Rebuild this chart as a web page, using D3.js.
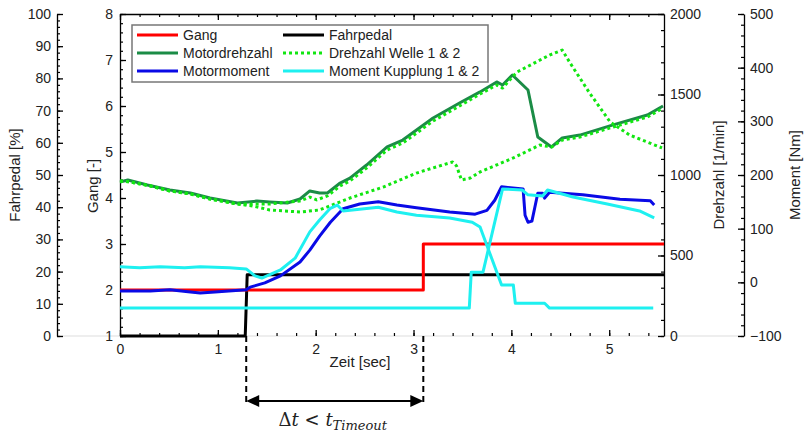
<!DOCTYPE html>
<html>
<head>
<meta charset="utf-8">
<script src="https://cdn.jsdelivr.net/npm/d3@7"></script>
<style>
  body { margin: 0; background: #fff; }
  svg text { font-family: Arial, "Liberation Sans", sans-serif; fill: #222; }
</style>
</head>
<body>
<div id="chart-area"></div>
<script>
// ---------- data (time [s], value) ----------
const gang = [[0, 2], [3.1, 2], [3.1, 3], [5.56, 3]];
const fahrpedal = [[0, 0], [1.28, 0], [1.30, 19], [5.56, 19]];

const motordrehzahl = [[0, 957], [0.08, 969], [0.28, 938], [0.51, 907], [0.72, 888], [0.92, 857],
  [1.2, 826], [1.4, 838], [1.53, 832], [1.71, 826], [1.84, 851], [1.94, 901], [2.04, 888], [2.12, 888],
  [2.25, 950], [2.35, 981], [2.52, 1062], [2.73, 1174], [2.89, 1217], [3.2, 1354], [3.47, 1447],
  [3.68, 1516], [3.85, 1578], [3.91, 1559], [4.01, 1621], [4.17, 1528], [4.27, 1236], [4.41, 1174],
  [4.52, 1230], [4.7, 1248], [5.04, 1311], [5.39, 1373], [5.55, 1429]];

const drehzahlWelle1 = [[0, 963], [0.1, 957], [0.31, 932], [0.51, 901], [0.72, 882], [0.92, 851],
  [1.2, 820], [1.53, 820], [1.84, 839], [1.94, 863], [2.01, 845], [2.12, 870], [2.25, 932], [2.35, 963],
  [2.52, 1043], [2.73, 1155], [2.89, 1199], [3.2, 1335], [3.47, 1429], [3.68, 1503], [3.85, 1559],
  [3.91, 1540], [4.01, 1609], [4.06, 1640], [4.39, 1745], [4.52, 1776], [4.6, 1696], [4.8, 1509],
  [5.01, 1329], [5.21, 1248], [5.54, 1168]];

const drehzahlWelle2 = [[0, 963], [0.1, 957], [0.31, 932], [0.51, 901], [0.72, 882], [0.92, 851],
  [1.2, 820], [1.36, 807], [1.53, 783], [1.84, 770], [2.04, 783], [2.35, 857], [2.69, 925], [3.03, 1012],
  [3.4, 1081], [3.44, 1056], [3.49, 969], [3.58, 981], [3.68, 1019], [4.02, 1106], [4.29, 1186],
  [4.41, 1174], [4.52, 1217], [4.7, 1236], [5.04, 1298], [5.39, 1360], [5.55, 1416]];

const motormoment = [[0, -16], [0.31, -16], [0.51, -14], [0.72, -18], [0.82, -20], [0.97, -18],
  [1.29, -14], [1.33, -9], [1.48, -1], [1.64, 12], [1.84, 38], [1.94, 60], [2.04, 86], [2.15, 112],
  [2.28, 137], [2.45, 146], [2.64, 150], [2.83, 144], [3.03, 139], [3.37, 131], [3.63, 127], [3.75, 134],
  [3.83, 153], [3.9, 178], [4.12, 174], [4.14, 125], [4.17, 112], [4.21, 114], [4.24, 140], [4.27, 166],
  [4.32, 166], [4.34, 157], [4.39, 168], [4.73, 163], [5.11, 155], [5.42, 152], [5.46, 144]];

const momentKupplung1 = [[0, 29], [0.2, 27], [0.41, 29], [0.66, 27], [0.82, 29], [1.12, 27], [1.29, 25],
  [1.38, 12], [1.45, 8], [1.64, 23], [1.79, 45], [1.94, 94], [2.04, 116], [2.15, 138], [2.22, 144],
  [2.28, 133], [2.64, 140], [2.83, 131], [3.03, 125], [3.37, 120], [3.6, 112], [3.68, 103], [3.9, -5],
  [4.02, -5], [4.04, -39], [4.34, -39], [4.39, -48], [5.45, -48]];

const momentKupplung2 = [[0, -48], [3.57, -48], [3.59, 19], [3.71, 19], [3.91, 174], [4.11, 172],
  [4.17, 163], [4.32, 161], [4.37, 172], [4.63, 159], [4.98, 146], [5.31, 133], [5.46, 120]];

const legendItems = [
  {name: "Gang", color: "#ff0000", dash: null},
  {name: "Fahrpedal", color: "#000000", dash: null},
  {name: "Motordrehzahl", color: "#1b8c46", dash: null},
  {name: "Drehzahl Welle 1 & 2", color: "#11e611", dash: "3,3"},
  {name: "Motormoment", color: "#0a0ae6", dash: null},
  {name: "Moment Kupplung 1 & 2", color: "#1ef0f0", dash: null}
];

// ---------- layout ----------
const width = 805, height = 433;
const plot = {left: 120, right: 664, top: 14, bottom: 336};
const pedalAxisX = 57, momentAxisX = 744;

const svg = d3.select("#chart-area").append("svg")
  .attr("width", width)
  .attr("height", height);

// Scales
const x = d3.scaleLinear().domain([0, 5.56]).range([plot.left, plot.right]);
const yGang = d3.scaleLinear().domain([1, 8]).range([plot.bottom, plot.top]);
const yPedal = d3.scaleLinear().domain([0, 100]).range([plot.bottom, plot.top]);
const yRpm = d3.scaleLinear().domain([0, 2000]).range([plot.bottom, plot.top]);
const yNm = d3.scaleLinear().domain([-100, 500]).range([plot.bottom, plot.top]);

// light grey base line
svg.append("line")
  .attr("x1", pedalAxisX).attr("x2", momentAxisX)
  .attr("y1", plot.bottom).attr("y2", plot.bottom)
  .attr("stroke", "#dddddd").attr("stroke-width", 1);

const range = (a, b, s) => d3.range(a, b + s / 2, s).map(v => +v.toFixed(3));

// helper: major + minor ticks on one axis (separate groups)
function addAxis(axisFn, scale, pos, majors, minors, pad, isX) {
  const tr = isX ? "translate(0," + pos + ")" : "translate(" + pos + ",0)";
  const gMinor = svg.append("g").attr("transform", tr)
    .call(axisFn(scale).tickValues(minors).tickSize(-3).tickSizeOuter(0).tickFormat(""));
  gMinor.select(".domain").remove();
  gMinor.selectAll(".tick line").attr("stroke", "#000").attr("stroke-width", 1.2);

  const g = svg.append("g").attr("transform", tr)
    .call(axisFn(scale).tickValues(majors).tickSize(-6).tickSizeOuter(0)
      .tickPadding(pad).tickFormat(d3.format("d")));
  g.select(".domain").attr("stroke", "#000").attr("stroke-width", 1.3);
  g.selectAll(".tick line").attr("stroke", "#000").attr("stroke-width", 1.3);
  g.selectAll("text").style("font-size", "14px").style("font-family", "Arial, 'Liberation Sans', sans-serif").attr("fill", "#222");
  return g;
}

// Fahrpedal axis
addAxis(d3.axisLeft, yPedal, pedalAxisX, range(0, 100, 10), range(0, 100, 2), 6);
// Gang axis
addAxis(d3.axisLeft, yGang, plot.left, range(1, 8, 1), range(1, 8, 0.2), 7);
// Drehzahl axis
addAxis(d3.axisRight, yRpm, plot.right, range(0, 2000, 500), range(0, 2000, 100), 6);
// Moment axis
addAxis(d3.axisRight, yNm, momentAxisX, range(-100, 500, 100), range(-100, 500, 20), 6);

// x axes (bottom: grey base line instead of domain, top: black)
const xBottom = addAxis(d3.axisBottom, x, plot.bottom, range(0, 5, 1), range(0, 5.4, 0.2), 8, true);
xBottom.select(".domain").remove();
const xTop = addAxis(d3.axisTop, x, plot.top, range(0, 5, 1), range(0, 5.4, 0.2), 8, true);
xTop.selectAll("text").remove();

// Axis titles
const titles = [
  {text: "Fahrpedal [%]", x: 15, y: 175},
  {text: "Gang [-]", x: 93, y: 186},
  {text: "Drehzahl [1/min]", x: 719, y: 175},
  {text: "Moment [Nm]", x: 795, y: 175}
];
svg.selectAll(".axis-title").data(titles).enter().append("text")
  .attr("class", "axis-title")
  .attr("transform", d => "translate(" + d.x + "," + d.y + ") rotate(-90)")
  .attr("text-anchor", "middle")
  .attr("dy", "0.35em")
  .style("font-size", "15px")
  .text(d => d.text);

svg.append("text")
  .attr("x", 360).attr("y", 362)
  .attr("text-anchor", "middle")
  .attr("dy", "0.35em")
  .style("font-size", "15px")
  .text("Zeit [sec]");

// ---------- lines ----------
const lineFor = yScale => d3.line().x(d => x(d[0])).y(d => yScale(d[1]));

const series = [
  {data: fahrpedal, y: yPedal, item: legendItems[1]},
  {data: gang, y: yGang, item: legendItems[0]},
  {data: motordrehzahl, y: yRpm, item: legendItems[2]},
  {data: drehzahlWelle1, y: yRpm, item: legendItems[3]},
  {data: drehzahlWelle2, y: yRpm, item: legendItems[3]},
  {data: motormoment, y: yNm, item: legendItems[4]},
  {data: momentKupplung1, y: yNm, item: legendItems[5]},
  {data: momentKupplung2, y: yNm, item: legendItems[5]}
];

svg.append("g").selectAll("path").data(series).enter().append("path")
  .attr("fill", "none")
  .attr("stroke", d => d.item.color)
  .attr("stroke-width", 3)
  .attr("stroke-linejoin", "round")
  .attr("stroke-dasharray", d => d.item.dash)
  .attr("d", d => lineFor(d.y)(d.data));

// ---------- legend ----------
const legend = svg.append("g");
legend.append("rect")
  .attr("x", 132).attr("y", 25)
  .attr("width", 356).attr("height", 57)
  .attr("fill", "#fff")
  .attr("stroke", "#777").attr("stroke-width", 1.5);

const legendRow = legend.selectAll(".leg").data(legendItems).enter().append("g")
  .attr("class", "leg")
  .attr("transform", (d, i) => "translate(" + (i % 2 === 0 ? 137 : 283) + "," + (35 + Math.floor(i / 2) * 18) + ")");
legendRow.append("line")
  .attr("x1", 0).attr("x2", 41)
  .attr("stroke", d => d.color)
  .attr("stroke-width", 3)
  .attr("stroke-dasharray", d => d.dash);
legendRow.append("text")
  .attr("x", 46).attr("dy", "0.35em")
  .style("font-size", "14px")
  .text(d => d.name);

// ---------- timeout annotation ----------
const tStart = fahrpedal[2][0] - 0.01, tEnd = gang[1][0];
const arrowY = 401;
[tStart, tEnd].forEach(t => {
  svg.append("line")
    .attr("x1", x(t)).attr("x2", x(t))
    .attr("y1", plot.bottom).attr("y2", arrowY + 2)
    .attr("stroke", "#000").attr("stroke-width", 2)
    .attr("stroke-dasharray", "6,4");
});

svg.append("line")
  .attr("x1", x(tStart) + 10).attr("x2", x(tEnd) - 10)
  .attr("y1", arrowY).attr("y2", arrowY)
  .attr("stroke", "#000").attr("stroke-width", 2);

const head = (tip, dir) => [[tip, arrowY], [tip + dir * 13, arrowY - 6], [tip + dir * 13, arrowY + 6]];
[[x(tStart), 1], [x(tEnd), -1]].forEach(([tip, dir]) => {
  svg.append("polygon")
    .attr("points", head(tip, dir).map(p => p.join(",")).join(" "))
    .attr("fill", "#000");
});

const note = svg.append("text")
  .attr("x", (x(tStart) + x(tEnd)) / 2 - 2).attr("y", 426)
  .attr("text-anchor", "middle")
  .style("font-family", "'DejaVu Serif', 'Liberation Serif', serif")
  .style("font-size", "18px");
note.append("tspan").text("Δ");
note.append("tspan").style("font-style", "italic").text("t");
note.append("tspan").text(" < ");
note.append("tspan").style("font-style", "italic").text("t");
note.append("tspan").style("font-style", "italic").style("font-size", "13px").attr("dy", 4).text("Timeout");
</script>
</body>
</html>
